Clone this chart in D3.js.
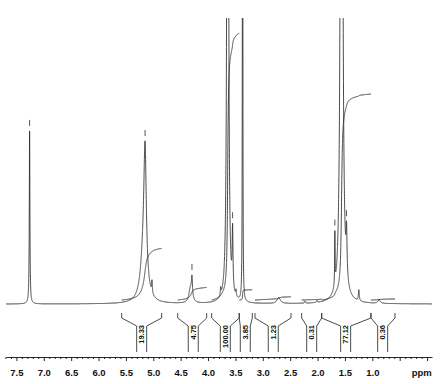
<!DOCTYPE html>
<html><head><meta charset="utf-8">
<script src="https://cdn.jsdelivr.net/npm/d3@7/dist/d3.min.js"></script>
<style>body{margin:0;background:#fff} svg{display:block}</style>
</head><body>
<svg id="c" width="441" height="384"></svg>
<script>
// Peak list: position (ppm), intensity (a.u.), half width (ppm)
const peakPpm    = [7.259, 5.150, 5.178, 5.024, 4.294, 4.312, 4.330, 3.770, 3.641, 3.552, 3.490, 3.369, 2.710, 2.230, 2.010, 1.684, 1.562, 1.471, 1.246, 0.876];
const peakHeight = [173,   125,   45,    12,    18,    10,    6,     7.5,   1336,  60,    6,     1430,  6,     2,     2,     52,    1502,  45,    11,    4];
const peakWidth  = [0.0064,0.027, 0.064, 0.0073,0.011, 0.036, 0.027, 0.0073,0.011, 0.009, 0.0073,0.0027,0.036, 0.009, 0.009, 0.0046,0.0146,0.011, 0.009, 0.022];
// Peaks carrying a peak-pick marker
const markedPeaks = [7.259, 5.150, 4.294, 3.552, 1.684, 1.471];
// Integral regions
const integralStart    = [5.577, 4.554, 3.934, 3.430, 3.143, 2.290, 1.925, 1.025];
const integralEnd      = [4.847, 4.025, 3.430, 3.192, 2.485, 1.925, 1.025, 0.586];
const integralValue    = [19.33, 4.75, 100.00, 3.85, 1.23, 0.31, 77.12, 0.36];
const integralLabelPpm = [5.212, 4.270, 3.685, 3.320, 2.809, 2.107, 1.487, 0.811];
// Axis
const majorTicks = [7.5, 7.0, 6.5, 6.0, 5.5, 5.0, 4.5, 4.0, 3.5, 3.0, 2.5, 2.0, 1.5, 1.0, 0.5, 0.0];
const tickLabels = ["7.5","7.0","6.5","6.0","5.5","5.0","4.5","4.0","3.5","3.0","2.5","2.0","1.5","1.0","",""];
const axisUnit = "ppm";

const svg = d3.select("#c");
const FONT = "'Liberation Sans', Arial, Helvetica, sans-serif";
const INK = "#2a2a2a";

const x = d3.scaleLinear().domain([7.69, -0.09]).range([6, 432]);
const y = d3.scaleLinear().domain([0, 286]).range([304, 18]);
const yInt = d3.scaleLinear().domain([0, 100]).range([300, 33]);

function intensity(p) {
  let s = 0;
  for (let i = 0; i < peakPpm.length; i++) {
    const u = (p - peakPpm[i]) / peakWidth[i];
    s += peakHeight[i] / (1 + u * u);
  }
  return s;
}

// sample grid (ppm)
const [d0, d1] = x.domain();
let grid = d3.range(d0, d1, -0.0008).concat(peakPpm, integralStart, integralEnd, [d1]);
grid = Array.from(new Set(grid.map(v => +v.toFixed(5)))).sort((a, b) => b - a);
const spec = grid.map(p => ({p, v: intensity(p)}));

svg.append("defs").append("clipPath").attr("id", "clip")
  .append("rect").attr("x", 0).attr("y", 18).attr("width", 441).attr("height", 300);

const line = d3.line().x(d => x(d.p)).y(d => y(d.v));
svg.append("path").datum(spec)
  .attr("clip-path", "url(#clip)")
  .attr("d", line)
  .attr("fill", "none").attr("stroke", INK).attr("stroke-width", 0.85)
  .attr("stroke-linejoin", "round");

// peak markers
svg.selectAll("line.mk").data(markedPeaks).join("line")
  .attr("class", "mk")
  .attr("x1", d => x(d)).attr("x2", d => x(d))
  .attr("y1", d => y(intensity(d)) - 11).attr("y2", d => y(intensity(d)) - 5)
  .attr("stroke", INK).attr("stroke-width", 0.8);

// integral curves
const integrals = integralValue.map((val, i) => {
  const pts = spec.filter(d => d.p <= integralStart[i] && d.p >= integralEnd[i]);
  let c = 0; const cum = [{p: pts[0].p, c: 0}];
  for (let k = 1; k < pts.length; k++) {
    c += (pts[k - 1].v + pts[k].v) / 2 * (pts[k - 1].p - pts[k].p);
    cum.push({p: pts[k].p, c});
  }
  return cum.map(d => ({p: d.p, c: d.c / c * val}));
});
const intLine = d3.line().x(d => x(d.p)).y(d => yInt(d.c));
svg.selectAll("path.int").data(integrals).join("path")
  .attr("class", "int")
  .attr("d", intLine)
  .attr("fill", "none").attr("stroke", INK).attr("stroke-width", 0.85);

// integral brackets and labels
const br = svg.append("g");
integralValue.forEach((val, i) => {
  const xo1 = x(integralStart[i]), xo2 = x(integralEnd[i]);
  const xc = x(integralLabelPpm[i]);
  const p = d3.path();
  p.moveTo(xo1, 313); p.lineTo(xo1, 318); p.lineTo(xc - 5, 326); p.lineTo(xc - 5, 352);
  p.moveTo(xo2, 313); p.lineTo(xo2, 318); p.lineTo(xc + 5, 326); p.lineTo(xc + 5, 352);
  br.append("path").attr("d", p.toString()).attr("fill", "none")
    .attr("stroke", INK).attr("stroke-width", 0.85);
  br.append("text")
    .attr("transform", `translate(${xc},325) rotate(-90)`)
    .attr("text-anchor", "end").attr("dy", "0.35em")
    .attr("font-family", FONT).attr("font-weight", "bold").attr("font-size", "7.5px")
    .attr("fill", "#111")
    .text(val.toFixed(2));
});

// axis
const minorTicks = d3.range(77, -1, -1).map(v => v / 10).filter(v => Math.abs(v * 2 - Math.round(v * 2)) > 1e-6);
const gAxis = svg.append("g").attr("transform", "translate(0,357)");
gAxis.call(d3.axisBottom(x).tickValues(minorTicks).tickSize(2).tickSizeOuter(0).tickFormat(""));
const gMaj = svg.append("g").attr("transform", "translate(0,357)");
gMaj.call(d3.axisBottom(x).tickValues(majorTicks).tickSize(4).tickSizeOuter(0)
  .tickFormat((d, i) => tickLabels[i]));
gMaj.select(".domain").remove();
svg.selectAll(".tick line").attr("stroke", "#111").attr("stroke-width", 0.9);
gAxis.select(".domain").attr("stroke", "#111").attr("stroke-width", 0.9);
gMaj.selectAll("text").attr("y", 19).attr("dy", 0)
  .attr("font-family", FONT).attr("font-weight", "bold").attr("font-size", "9.5px").attr("fill", "#111");
svg.append("text").attr("x", 421.7).attr("y", 376).attr("text-anchor", "middle")
  .attr("font-family", FONT).attr("font-weight", "bold").attr("font-size", "9.5px").attr("fill", "#111")
  .text(axisUnit);
</script>
</body></html>
